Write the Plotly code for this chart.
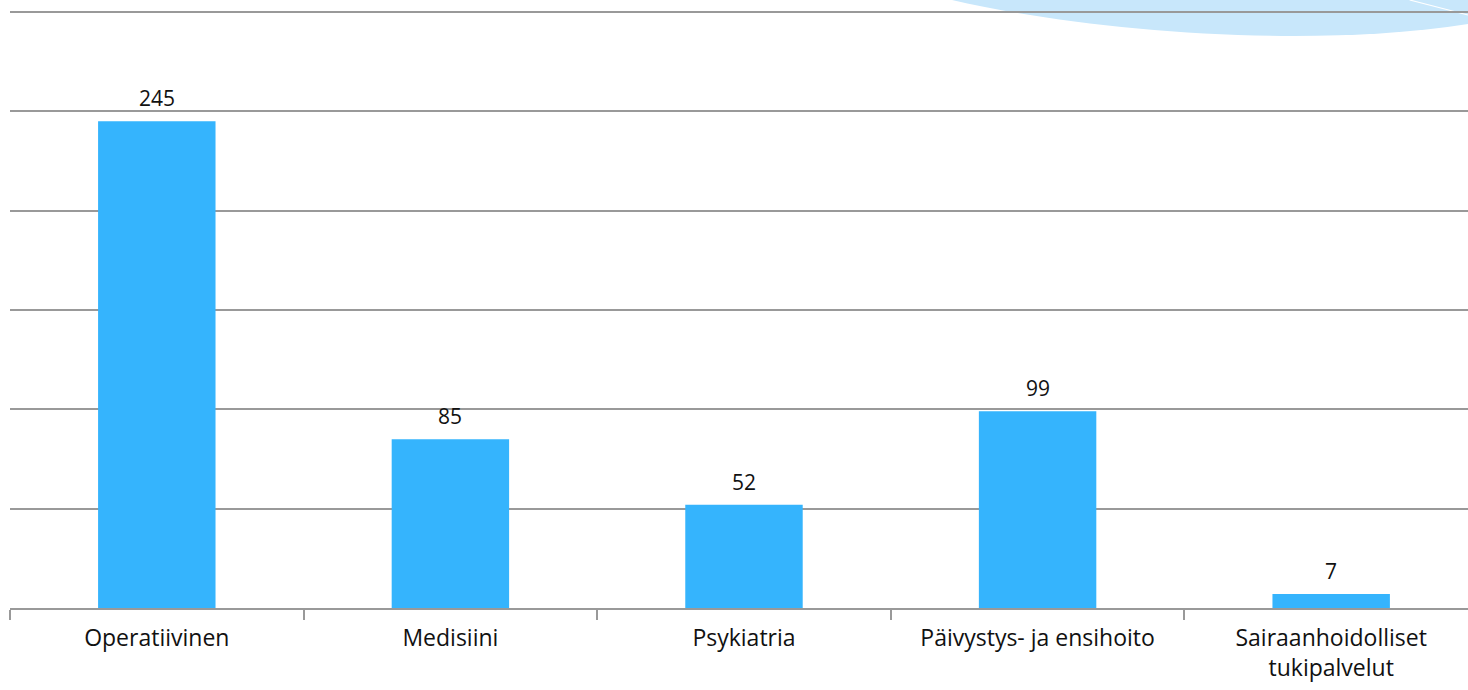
import plotly.graph_objects as go

categories = ["Operatiivinen", "Medisiini", "Psykiatria", "Päivystys- ja ensihoito",
              "Sairaanhoidolliset<br>tukipalvelut"]
values = [245, 85, 52, 99, 7]

bar_color = "#35B4FD"
grid_color = "#999999"
font_family = "Open Sans, Lato, DejaVu Sans, sans-serif"

fig = go.Figure()
fig.add_trace(go.Bar(
    x=categories, y=values, width=0.4,
    marker=dict(color=bar_color, line=dict(width=0)),
    hoverinfo="x+y",
))

for c, v in zip(categories, values):
    fig.add_annotation(x=c, y=v, text=str(v), showarrow=False,
                       yanchor="bottom", yshift=7,
                       font=dict(family=font_family, size=21, color="#111111"))

# decorative swoosh in top-right corner (paper coords)
fig.add_shape(type="path", xref="paper", yref="paper", layer="below",
              path="M 0.6461,1.0133 C 0.7339,0.9633 0.8848,0.9300 1.0,0.9733 L 1.0,1.0133 Z",
              fillcolor="#C8E7FB", line=dict(width=0))
fig.add_shape(type="line", xref="paper", yref="paper", layer="below",
              x0=0.960, y0=1.0133, x1=1.0, y1=0.9883,
              line=dict(color="white", width=1.2))

fig.update_layout(
    width=1468, height=690,
    margin=dict(l=10, r=0, t=8, b=82, autoexpand=False),
    paper_bgcolor="white", plot_bgcolor="rgba(0,0,0,0)",
    showlegend=False, bargap=0.6,
    font=dict(family=font_family, size=23, color="#111111"),
    xaxis=dict(
        type="category", range=[-0.5, 4.466],
        showline=True, linecolor=grid_color, linewidth=2,
        ticks="outside", tickson="boundaries", ticklen=10,
        tickcolor=grid_color, tickwidth=1.5,
        showgrid=False, tickfont=dict(size=23, color="#111111"),
        ticklabelstandoff=8, automargin=False,
    ),
    yaxis=dict(
        range=[0, 302], tickvals=[50, 100, 150, 200, 250, 300], showticklabels=False,
        showgrid=True, gridcolor=grid_color, gridwidth=2,
        zeroline=False, showline=False, ticks="", automargin=False,
    ),
)

fig.write_html("out.html", config={"displayModeBar": False},
               post_script="document.body.style.margin='0';")
